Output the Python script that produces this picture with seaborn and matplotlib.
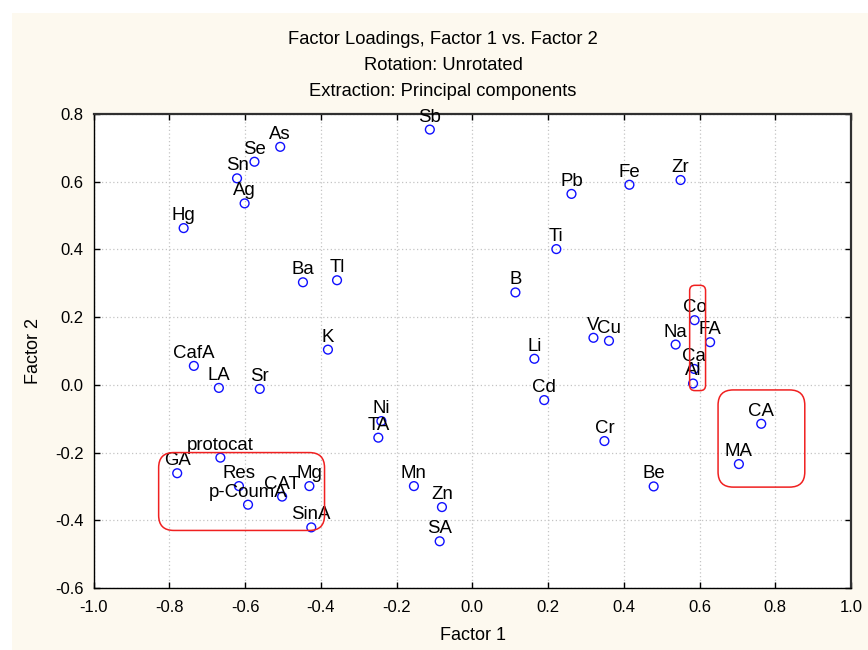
import matplotlib
matplotlib.use("Agg")
import matplotlib.pyplot as plt
from matplotlib.patches import FancyBboxPatch, Rectangle
import seaborn as sns
import pandas as pd

# ---- data ----
labels = ["Sb", "As", "Se", "Sn", "Ag", "Hg", "Ba", "Tl", "K", "CafA", "LA", "Sr",
          "Ni", "TA", "Mn", "Zn", "SA", "GA", "protocat", "Res", "p-CoumA", "CAT",
          "Mg", "SinA", "B", "Ti", "Pb", "Fe", "Zr", "Li", "Cd", "V", "Cu", "Na",
          "Co", "FA", "Ca", "Al", "Cr", "Be", "CA", "MA"]
factor1 = [-0.112, -0.507, -0.575, -0.621, -0.601, -0.762, -0.447, -0.357, -0.381,
           -0.735, -0.669, -0.561, -0.240, -0.248, -0.154, -0.080, -0.086, -0.779,
           -0.665, -0.616, -0.592, -0.502, -0.430, -0.425, 0.114, 0.222, 0.262,
           0.415, 0.550, 0.164, 0.190, 0.320, 0.361, 0.537, 0.587, 0.628, 0.586,
           0.583, 0.349, 0.479, 0.763, 0.704]
factor2 = [0.754, 0.703, 0.659, 0.610, 0.536, 0.463, 0.303, 0.309, 0.104, 0.056,
           -0.009, -0.012, -0.107, -0.156, -0.299, -0.361, -0.462, -0.261, -0.215,
           -0.299, -0.354, -0.330, -0.299, -0.421, 0.273, 0.401, 0.564, 0.591,
           0.605, 0.077, -0.045, 0.139, 0.130, 0.119, 0.191, 0.126, 0.047, 0.004,
           -0.166, -0.300, -0.115, -0.234]

x_ticks = [-1.0, -0.8, -0.6, -0.4, -0.2, 0.0, 0.2, 0.4, 0.6, 0.8, 1.0]
y_ticks = [-0.6, -0.4, -0.2, 0.0, 0.2, 0.4, 0.6, 0.8]

# highlighted groups: (x0, x1, y0, y1, corner radius in x units)
boxes_x0 = [-0.828, 0.574, 0.649]
boxes_x1 = [-0.390, 0.616, 0.878]
boxes_y0 = [-0.430, -0.017, -0.302]
boxes_y1 = [-0.200, 0.294, -0.015]
boxes_r = [0.040, 0.014, 0.040]

title_lines = ["Factor Loadings, Factor 1 vs. Factor 2",
               "Rotation: Unrotated",
               "Extraction: Principal components"]

df = pd.DataFrame({"Factor 1": factor1, "Factor 2": factor2, "label": labels})

# ---- style ----
sns.set_theme(style="white")
plt.rcParams["font.family"] = ["Liberation Sans", "DejaVu Sans"]

W, H = 868, 650
fig = plt.figure(figsize=(W / 100, H / 100), dpi=100, facecolor="white")
fig.patches.append(Rectangle((12 / W, 0), (W - 12) / W, 1 - 13 / H,
                             transform=fig.transFigure, facecolor="#fdf9ef",
                             edgecolor="none", zorder=-10))

left, right, top, bottom = 93.5, 851, 114, 588
ax = fig.add_axes([left / W, 1 - bottom / H, (right - left) / W, (bottom - top) / H])
ax.set_facecolor("white")

sns.scatterplot(data=df, x="Factor 1", y="Factor 2", ax=ax, marker="o", s=40,
                linewidth=1.0, edgecolor="#1010ff", zorder=3, legend=False)
for coll in ax.collections:
    coll.set_facecolor("none")
    coll.set_edgecolor("#1010ff")

for lab, xv, yv in zip(labels, factor1, factor2):
    ax.annotate(lab, (xv, yv), xytext=(0, 5.8), textcoords="offset points",
                ha="center", va="baseline", fontsize=13.4, color="black",
                zorder=4, annotation_clip=False)

ax.set_xlim(-1.0, 1.0)
ax.set_ylim(-0.6, 0.8)
ax.set_xticks(x_ticks)
ax.set_yticks(y_ticks)
ax.set_xticklabels([f"{v:.1f}" for v in x_ticks])
ax.set_yticklabels([f"{v:.1f}" for v in y_ticks])
ax.tick_params(axis="both", which="both", direction="in", length=4, width=1,
               color="black", labelsize=12, labelcolor="black",
               top=True, right=True, bottom=True, left=True)
ax.tick_params(axis="x", pad=9)
ax.tick_params(axis="y", pad=7)
ax.grid(True, linestyle=(0, (1, 2)), color="#c4c4c4", linewidth=0.9)
ax.set_axisbelow(True)

for s in ["left", "bottom"]:
    ax.spines[s].set_color("black")
    ax.spines[s].set_linewidth(1.0)
for s in ["top", "right"]:
    ax.spines[s].set_color("#303030")
    ax.spines[s].set_linewidth(1.6)

ax.set_xlabel("")
ax.set_ylabel("")

# red rounded boxes
px_x = (right - left) / 2.0
px_y = (bottom - top) / 1.4
aspect = px_x / px_y
for x0, x1, y0, y1, r in zip(boxes_x0, boxes_x1, boxes_y0, boxes_y1, boxes_r):
    p = FancyBboxPatch((x0, y0), x1 - x0, y1 - y0,
                       boxstyle=f"round,pad=0,rounding_size={r}",
                       mutation_aspect=aspect, transform=ax.transData,
                       facecolor="none", edgecolor="#f02020", linewidth=1.1,
                       zorder=5, clip_on=False)
    ax.add_patch(p)

# titles and axis labels
for ypx, t in zip([40, 65, 91], title_lines):
    fig.text(443 / W, 1 - ypx / H, t, ha="center", va="center", fontsize=13.2,
             color="black")
fig.text(473 / W, 1 - 636 / H, "Factor 1", ha="center", va="center",
         fontsize=13, color="black")
fig.text(33 / W, 1 - 351 / H, "Factor 2", ha="center", va="center",
         fontsize=13, color="black", rotation=90)

fig.savefig("out.png", dpi=100, facecolor="white")
